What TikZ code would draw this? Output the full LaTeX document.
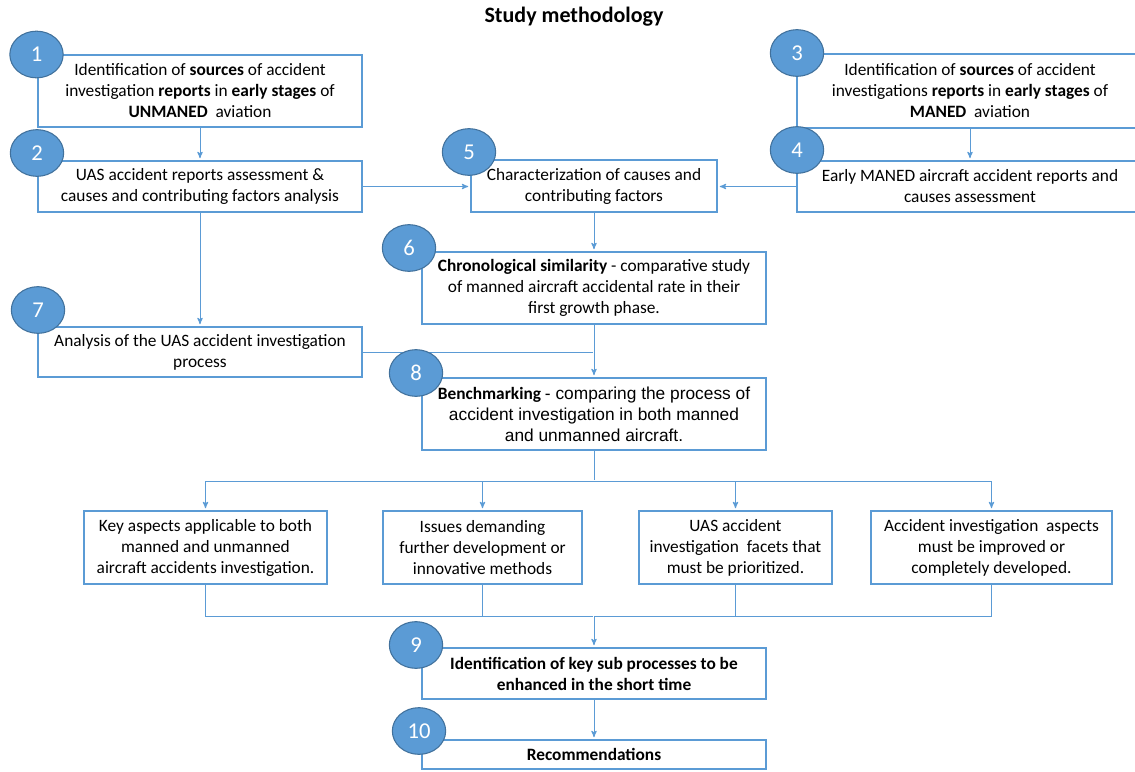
\documentclass[tikz,border=0pt]{standalone}
\usepackage{fontspec}
\setmainfont{Carlito}
\newfontfamily\arialfont{Liberation Sans}
\usetikzlibrary{arrows,shapes.geometric,positioning}
\definecolor{boxblue}{HTML}{5B9BD5}
\definecolor{ringblue}{HTML}{41719C}
\definecolor{linkblue}{HTML}{5B9BD5}

\begin{document}
\begin{tikzpicture}[x=0.75pt,y=-0.75pt,->,>=stealth',shorten >=1pt,
  stepbox/.style={draw=boxblue,line width=2.2pt,fill=white,align=center,inner sep=2pt,
    font=\fontsize{13}{15.75}\selectfont},
  boxsize/.style 2 args={minimum width=#1*0.75pt,minimum height=#2*0.75pt},
  num node/.style={ellipse,fill=boxblue,draw=ringblue,line width=0.8pt,text=white,inner sep=0pt,
    minimum width=40pt,minimum height=35pt,font=\fontsize{17}{17}\selectfont},
  link/.style={draw=linkblue,line width=0.75pt}]
  \useasboundingbox (0,0) rectangle (1135,771);

  \node[font=\fontsize{16.5}{16.5}\selectfont\bfseries] (title) at (574,17) {Study methodology};

  % upper part
  \node[stepbox,boxsize={324}{72}] (s1) at (200,91)
    {Identification of \textbf{sources} of accident\\
     investigation \textbf{reports} in \textbf{early stages} of\\
     \textbf{UNMANED}~ aviation};
  \node[stepbox,boxsize={324}{51}] (s2) at (200,186.5)
    {UAS accident reports assessment \&\\ causes and contributing factors analysis};
  \node[stepbox,boxsize={346}{74}] (s3) at (970,91)
    {Identification of \textbf{sources} of accident\\
     investigations \textbf{reports} in \textbf{early stages} of\\
     \textbf{MANED}~ aviation};
  \node[stepbox,boxsize={346}{51}] (s4) at (970,186.5)
    {Early MANED aircraft accident reports and\\ causes assessment};
  \node[stepbox,boxsize={246}{52}] (s5) at (594,186)
    {Characterization of causes and\\ contributing factors};
  \node[stepbox,boxsize={344}{72}] (s6) at (594,288)
    {\textbf{Chronological similarity} - comparative study\\
     of manned aircraft accidental rate in their\\ first growth phase.};
  \node[stepbox,boxsize={324}{50}] (s7) at (200,352)
    {Analysis of the UAS accident investigation\\ process};
  \node[stepbox,boxsize={344}{72}] (s8) at (594,414)
    {\textbf{Benchmarking} {\arialfont - comparing the process of}\\
     {\arialfont accident investigation in both manned}\\
     {\arialfont and unmanned aircraft.}};

  % findings
  \node[stepbox,boxsize={243}{73}] (f1) at (205.5,547.5)
    {Key aspects applicable to both\\ manned and unmanned\\ aircraft accidents investigation.};
  \node[stepbox,boxsize={199}{73}] (f2) at (482.5,547.5)
    {Issues demanding\\ further development or\\ innovative methods};
  \node[stepbox,boxsize={193}{73}] (f3) at (735.5,547.5)
    {UAS accident\\ investigation~ facets that\\ must be prioritized.};
  \node[stepbox,boxsize={241}{73}] (f4) at (991.5,547.5)
    {Accident investigation~ aspects\\ must be improved or\\ completely developed.};

  % lower part
  \node[stepbox,boxsize={344}{51},font=\fontsize{13}{15.75}\selectfont\bfseries] (s9) at (594,673.5)
    {Identification of key sub processes to be\\ enhanced in the short time};
  \node[stepbox,boxsize={344}{29},font=\fontsize{13}{15.75}\selectfont\bfseries] (s10) at (594,754.5)
    {Recommendations};

  \coordinate (split) at (594,481);
  \coordinate (merge) at (594,616);

  \draw[link] (s1) -- (s2);
  \draw[link] (s2) -- (s7);
  \draw[link] (s2.east) -- (s5.west |- s2.east);
  \draw[link] (s3) -- (s4);
  \draw[link] (s4.west) -- (s5.east |- s4.west);
  \draw[link] (s5) -- (s6);
  \draw[link] (s6) -- (s8);
  \draw[link,-] (s7.east) -- (s7.east -| s8.north);
  \draw[link,-] (s8) -- (split);
  \draw[link] (split) -| (f1);
  \draw[link] (split) -| (f2);
  \draw[link] (split) -| (f3);
  \draw[link] (split) -| (f4);
  \draw[link,-] (f1.south) |- (merge);
  \draw[link,-] (f2.south) |- (merge);
  \draw[link,-] (f3.south) |- (merge);
  \draw[link,-] (f4.south) |- (merge);
  \draw[link] (merge) -- (s9.north);
  \draw[link] (s9) -- (s10);

  % numbers
  \node[num node] (n1) at (36.5,54.5) {1};
  \node[num node] (n2) at (37,153) {2};
  \node[num node] (n3) at (797,53) {3};
  \node[num node] (n4) at (797,150) {4};
  \node[num node] (n5) at (469,152) {5};
  \node[num node] (n6) at (409,248) {6};
  \node[num node] (n7) at (38,310) {7};
  \node[num node] (n8) at (416,373) {8};
  \node[num node] (n9) at (416,645) {9};
  \node[num node] (n10) at (419,731) {10};
\end{tikzpicture}
\end{document}
